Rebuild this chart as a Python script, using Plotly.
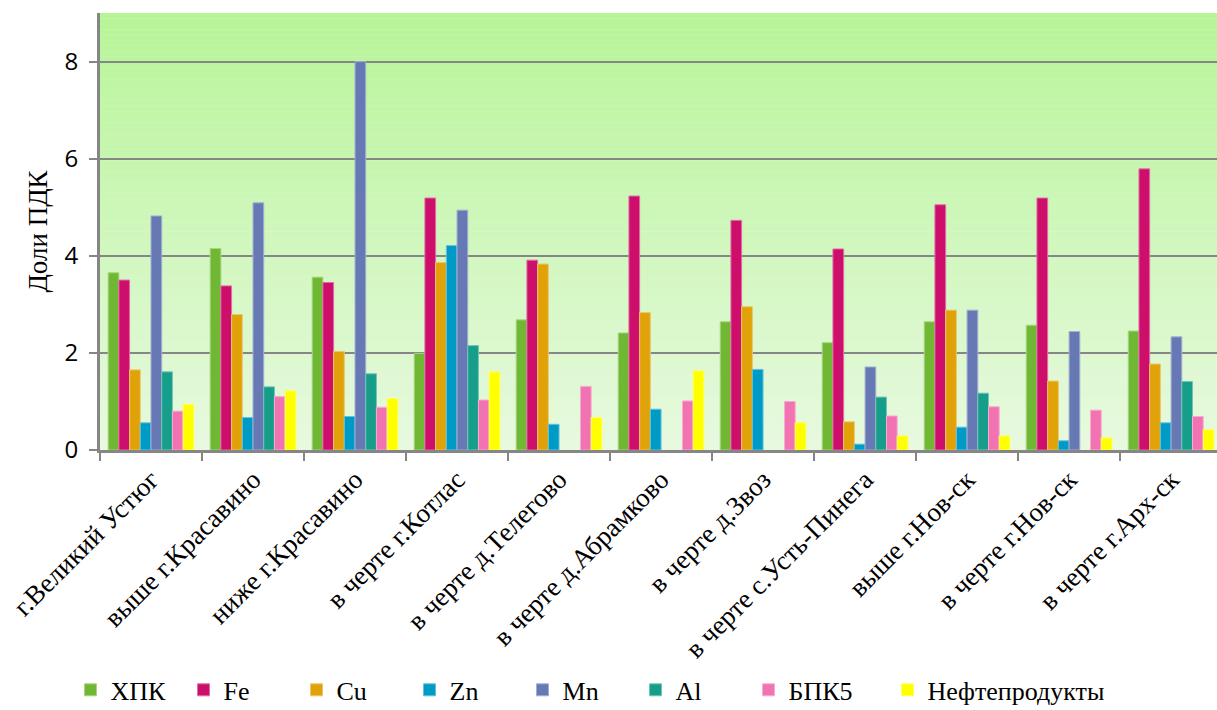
import plotly.graph_objects as go

categories = ["г.Великий Устюг", "выше г.Красавино", "ниже г.Красавино", "в черте г.Котлас",
              "в черте д.Телегово", "в черте д.Абрамково", "в черте д.Звоз",
              "в черте с.Усть-Пинега", "выше г.Нов-ск", "в черте г.Нов-ск", "в черте г.Арх-ск"]

hpk   = [3.65, 4.15, 3.56, 1.99, 2.68, 2.41, 2.64, 2.21, 2.64, 2.57, 2.45]
fe    = [3.50, 3.38, 3.45, 5.19, 3.91, 5.23, 4.73, 4.14, 5.05, 5.19, 5.79]
cu    = [1.65, 2.79, 2.03, 3.86, 3.83, 2.83, 2.95, 0.58, 2.88, 1.42, 1.77]
zn    = [0.56, 0.67, 0.69, 4.21, 0.53, 0.84, 1.66, 0.12, 0.47, 0.19, 0.56]
mn    = [4.82, 5.09, 8.00, 4.94, None, None, None, 1.71, 2.88, 2.44, 2.33]
al    = [1.61, 1.30, 1.57, 2.15, None, None, None, 1.09, 1.17, None, 1.41]
bpk5  = [0.80, 1.10, 0.88, 1.03, 1.31, 1.01, 1.00, 0.70, 0.89, 0.82, 0.69]
neft  = [0.94, 1.22, 1.06, 1.61, 0.67, 1.63, 0.56, 0.29, 0.29, 0.25, 0.42]

series_names = ["ХПК", "Fe", "Cu", "Zn", "Mn", "Al", "БПК5", "Нефтепродукты"]
series_values = [hpk, fe, cu, zn, mn, al, bpk5, neft]
colors = ["#70B833", "#CD0E6B", "#E0A208", "#009AC6", "#6679B4", "#169E8A", "#F273B1", "#FFFF00"]


def lighten(hexc, f=0.4):
    h = hexc.lstrip("#")
    r, g, b = (int(h[i:i + 2], 16) for i in (0, 2, 4))
    r, g, b = (int(c + (255 - c) * f) for c in (r, g, b))
    return f"rgb({r},{g},{b})"


def mix(c1, c2, t):
    return tuple(int(round(a + (b - a) * t)) for a, b in zip(c1, c2))


fig = go.Figure()
for i, (name, vals, col) in enumerate(zip(series_names, series_values, colors)):
    fig.add_trace(go.Bar(
        x=categories, y=vals, name=name,
        marker=dict(color=col, line=dict(color=lighten(col), width=1)),
        legend="legend2" if i == len(series_names) - 1 else "legend",
    ))

# background gradient (light at bottom, stronger green at top)
top = (182, 245, 151)
bottom = (232, 249, 224)
N = 80
shapes = []
for i in range(N):
    t = (i + 0.5) / N
    r, g, b = mix(bottom, top, t)
    shapes.append(dict(type="rect", xref="paper", yref="paper",
                       x0=0, x1=1, y0=i / N, y1=(i + 1) / N,
                       fillcolor=f"rgb({r},{g},{b})", line=dict(width=0),
                       layer="below"))

legend_font = dict(family="Liberation Serif", size=26, color="black")

fig.update_layout(
    width=1217, height=710,
    margin=dict(l=100, r=0, t=13, b=260, autoexpand=False),
    paper_bgcolor="white",
    plot_bgcolor="rgb(220,248,205)",
    barmode="group",
    bargap=0.16,
    bargroupgap=0,
    shapes=shapes,
    showlegend=True,
    legend=dict(orientation="h", x=-0.0264, xanchor="left", y=-0.549, yanchor="middle",
                bgcolor="rgba(0,0,0,0)", font=legend_font,
                itemwidth=30, traceorder="normal",
                entrywidth=68, entrywidthmode="pixels"),
    legend2=dict(orientation="h", x=0.705, xanchor="left", y=-0.549, yanchor="middle",
                 bgcolor="rgba(0,0,0,0)", font=legend_font,
                 itemwidth=30),
    xaxis=dict(
        range=[-0.5, 10.45],
        automargin=False,
        showline=True, linecolor="#868686", linewidth=3,
        ticks="outside", tickson="boundaries", ticklen=8, tickwidth=2, tickcolor="#868686",
        tickangle=-45,
        tickfont=dict(family="Liberation Serif", size=27, color="black"),
        showgrid=False,
    ),
    yaxis=dict(
        range=[0, 9],
        automargin=False,
        tickvals=[0, 2, 4, 6, 8],
        showline=True, linecolor="#868686", linewidth=3,
        ticks="outside", ticklen=8, tickwidth=2, tickcolor="#868686",
        ticklabelstandoff=6,
        showgrid=True, gridcolor="#868686", gridwidth=2,
        zeroline=False,
        tickfont=dict(family="Open Sans", size=24, color="black"),
        title=dict(text="Доли ПДК", font=dict(family="Liberation Serif", size=27, color="black"),
                   standoff=10),
    ),
)

fig.write_html("out.html")
